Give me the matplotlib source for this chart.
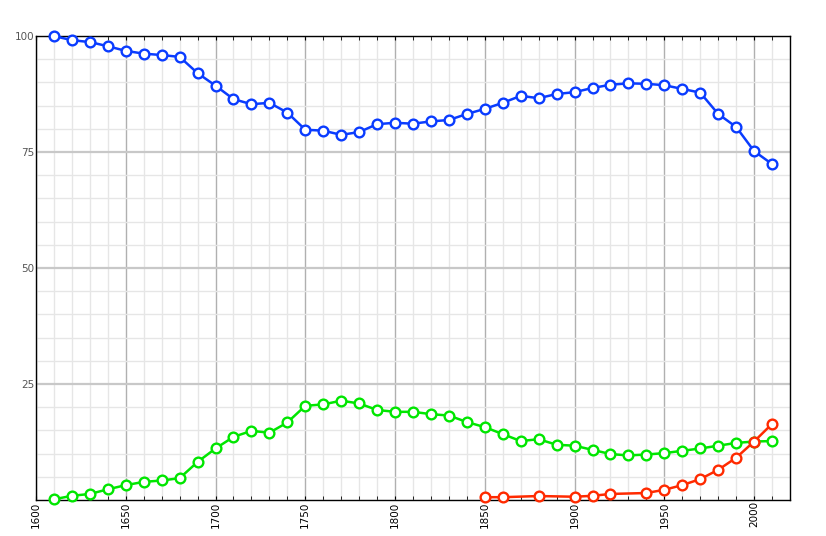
import matplotlib.pyplot as plt
from matplotlib.ticker import MultipleLocator, FixedLocator

# Decades for the blue and green series
years = list(range(1610, 2011, 10))

blue = [100.0, 99.1, 98.7, 97.8, 96.8, 96.2, 95.9, 95.5, 92.0, 89.3,
        86.4, 85.3, 85.6, 83.5, 79.8, 79.6, 78.7, 79.3, 81.0, 81.3,
        81.1, 81.6, 81.9, 83.2, 84.3, 85.6, 87.1, 86.6, 87.5, 87.9,
        88.8, 89.5, 89.8, 89.7, 89.4, 88.6, 87.8, 83.2, 80.4, 75.2,
        72.4]

green = [0.15, 0.9, 1.3, 2.3, 3.2, 3.9, 4.2, 4.7, 8.2, 11.1,
         13.6, 14.9, 14.5, 16.7, 20.3, 20.6, 21.4, 20.8, 19.4, 19.0,
         19.0, 18.5, 18.2, 16.8, 15.7, 14.2, 12.7, 13.1, 11.9, 11.7,
         10.8, 9.9, 9.6, 9.8, 10.1, 10.6, 11.1, 11.7, 12.3, 12.6,
         12.7]

red_years = [1850, 1860, 1880, 1900, 1910, 1920, 1940, 1950, 1960, 1970,
             1980, 1990, 2000, 2010]
red = [0.6, 0.6, 0.85, 0.7, 0.9, 1.3, 1.5, 2.2, 3.2, 4.5,
       6.5, 9.1, 12.6, 16.4]

x_ticks = list(range(1600, 2001, 50))
y_ticks = [25, 50, 75, 100]

fig = plt.figure(figsize=(8.26, 5.36), dpi=100)
ax = fig.add_axes([0.0436, 0.0672, 0.9128, 0.8656])

# grid
ax.xaxis.set_major_locator(FixedLocator(x_ticks))
ax.xaxis.set_minor_locator(MultipleLocator(10))
ax.yaxis.set_major_locator(FixedLocator(y_ticks))
ax.yaxis.set_minor_locator(MultipleLocator(5))
ax.grid(which='minor', color='#e6e6e6', linewidth=1.0)
ax.grid(which='major', axis='x', color='#b0b0b0', linewidth=1.0)
ax.grid(which='major', axis='y', color='#c8c8c8', linewidth=1.6)
ax.set_axisbelow(True)

style = dict(linewidth=1.8, marker='o', markersize=7, markeredgewidth=1.7,
             markerfacecolor='white', clip_on=False, zorder=3)
ax.plot(years, blue, color='#0a3cff', **style)
ax.plot(years, green, color='#00e600', **style)
ax.plot(red_years, red, color='#ff2a00', **style)

ax.set_xlim(1600, 2020)
ax.set_ylim(0, 100)

for s in ax.spines.values():
    s.set_color('black')
    s.set_linewidth(1.0)

ax.set_xticklabels([str(y) for y in x_ticks], rotation=90, fontsize=7.5,
                   va='top', ha='center')
ax.set_yticklabels([str(y) for y in y_ticks], fontsize=7.5, color='#555555')
ax.tick_params(axis='x', which='both', direction='in', length=3,
               top=True, pad=1, color='black')
ax.tick_params(axis='y', which='both', length=0, pad=1)

fig.savefig('out.png', dpi=100)
